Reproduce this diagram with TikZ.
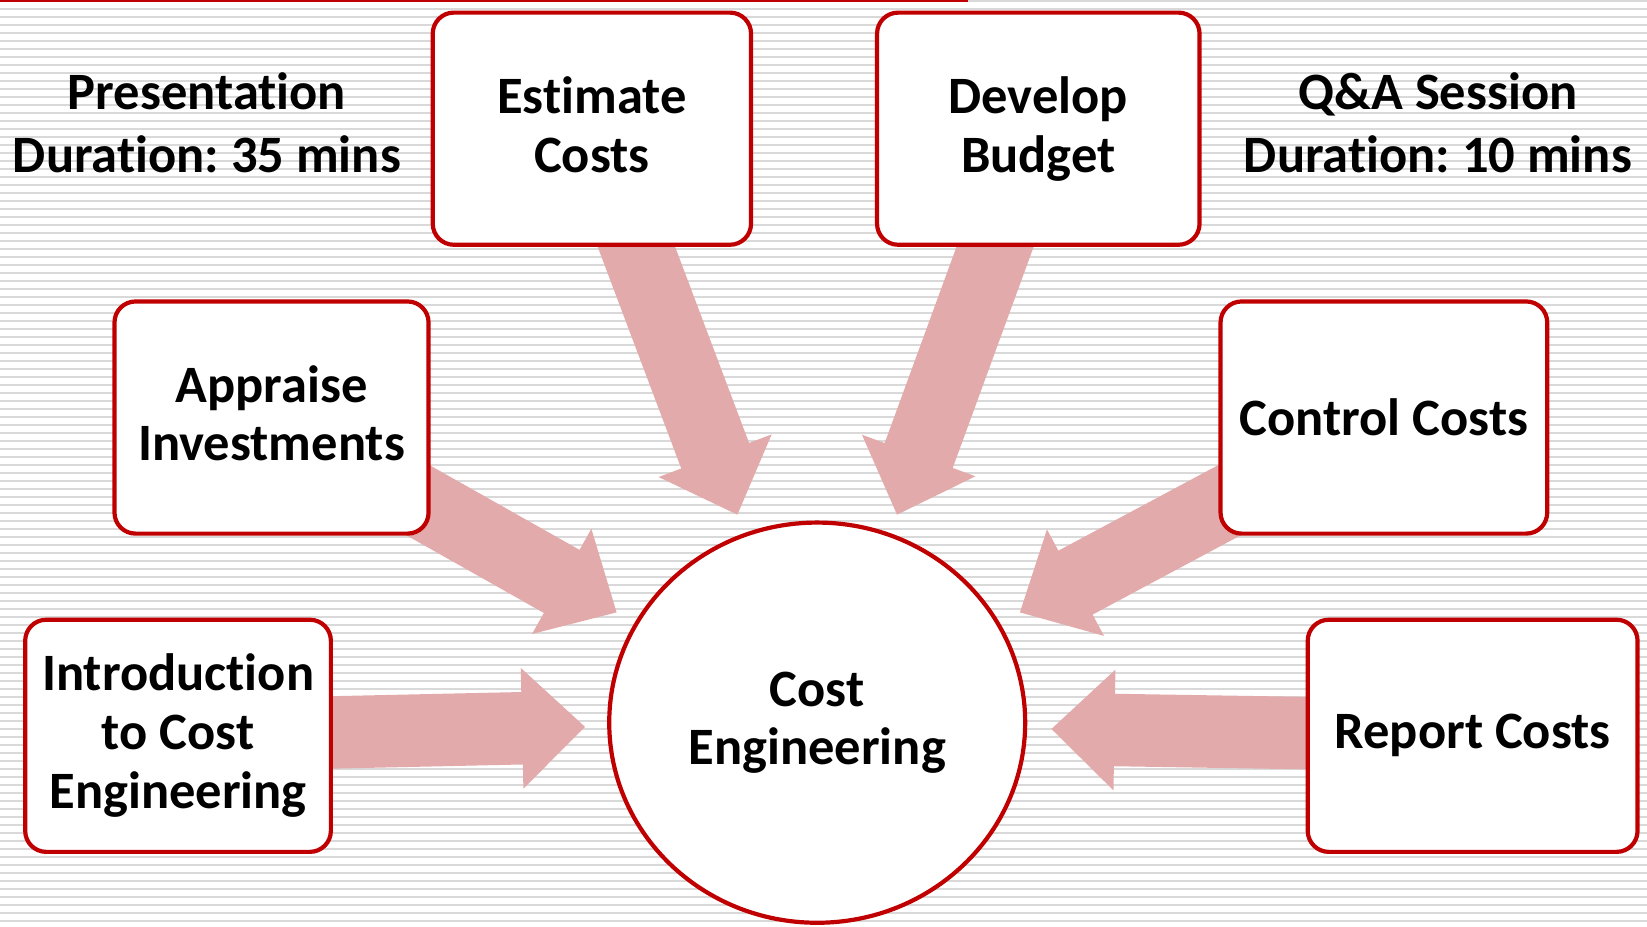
\documentclass[tikz,border=0pt]{standalone}
\usepackage{fontspec}
\setmainfont{Carlito}[Ligatures=NoCommon]
\frenchspacing
\usetikzlibrary{calc,shapes.geometric}
\definecolor{boxred}{RGB}{192,0,0}
\definecolor{arrowpink}{RGB}{226,170,170}
\definecolor{stripegray}{RGB}{217,217,217}
\pgfdeclarelayer{bg}
\pgfdeclarelayer{arr}
\pgfsetlayers{bg,arr,main}
\tikzset{
  stepbox/.style={draw=boxred, line width=4pt, fill=white, rounded corners=20pt,
    minimum height=221pt, align=center, inner sep=0pt,
    font=\fontsize{50}{56}\selectfont\bfseries},
  hubnode/.style={ellipse, draw=boxred, line width=4pt, fill=white,
    minimum width=396pt, minimum height=381pt, align=center, inner sep=0pt,
    font=\fontsize{50}{56}\selectfont\bfseries},
  infotext/.style={align=center, inner sep=0pt, font=\fontsize{50}{60}\selectfont\bfseries},
  fatarrow/.style={fill=arrowpink, draw=none}
}
\newcommand{\fatarrowdraw}[2]{%
  \fill[fatarrow]
    (#2)
    -- ($($(#2)!60pt!(#1)$)!57.5pt!90:(#2)$)
    -- ($($(#2)!60pt!(#1)$)!34.5pt!90:(#2)$)
    -- ($(#1)!34.5pt!90:(#2)$)
    -- ($(#1)!34.5pt!-90:(#2)$)
    -- ($($(#2)!60pt!(#1)$)!34.5pt!-90:(#2)$)
    -- ($($(#2)!60pt!(#1)$)!57.5pt!-90:(#2)$)
    -- cycle;}
\begin{document}
\begin{tikzpicture}[x=1pt,y=-1pt]
\useasboundingbox (0,0) rectangle (1568,881.6);
% background stripes
\begin{pgfonlayer}{bg}
\foreach \k in {0,...,115}
  \fill[stripegray] (0,{7.619*\k}) rectangle (1568,{7.619*\k+1.9});
\fill[boxred] (0,0) rectangle (922,1.6);
\end{pgfonlayer}
% nodes
\node[infotext] (pres) at (197,117) {Presentation\\Duration: 35 mins};
\node[infotext] (qa) at (1369,117) {Q\&A Session\\Duration: 10 mins};
\node[stepbox, minimum width=303pt] (est) at (563.5,122.5) {Estimate\\Costs\vphantom{g}};
\node[stepbox, minimum width=307pt] (dev) at (988.5,122.5) {Develop\\Budget};
\node[stepbox, minimum width=299pt] (app) at (258.5,397.5) {Appraise\vphantom{l}\\Investments\vphantom{g}};
\node[stepbox, minimum width=311pt] (ctl) at (1317.5,397.5) {Control Costs};
\node[stepbox, minimum width=291pt] (intro) at (169.5,700.5) {Introduction\\to Cost\\Engineering};
\node[stepbox, minimum width=314pt] (rep) at (1402,700.5) {Report Costs};
\node[hubnode] (hub) at (778,688) {Cost\\Engineering};
% arrow tips
\coordinate (tEst) at (702,490);
\coordinate (tDev) at (854,490);
\coordinate (tApp) at (587,583);
\coordinate (tCtl) at (971,583);
\coordinate (tIntro) at (557,692);
\coordinate (tRep) at (1001,694);
\begin{pgfonlayer}{arr}
\fatarrowdraw{est.center}{tEst}
\fatarrowdraw{dev.center}{tDev}
\fatarrowdraw{app.center}{tApp}
\fatarrowdraw{ctl.center}{tCtl}
\fatarrowdraw{intro.center}{tIntro}
\fatarrowdraw{rep.center}{tRep}
\end{pgfonlayer}
\end{tikzpicture}
\end{document}
